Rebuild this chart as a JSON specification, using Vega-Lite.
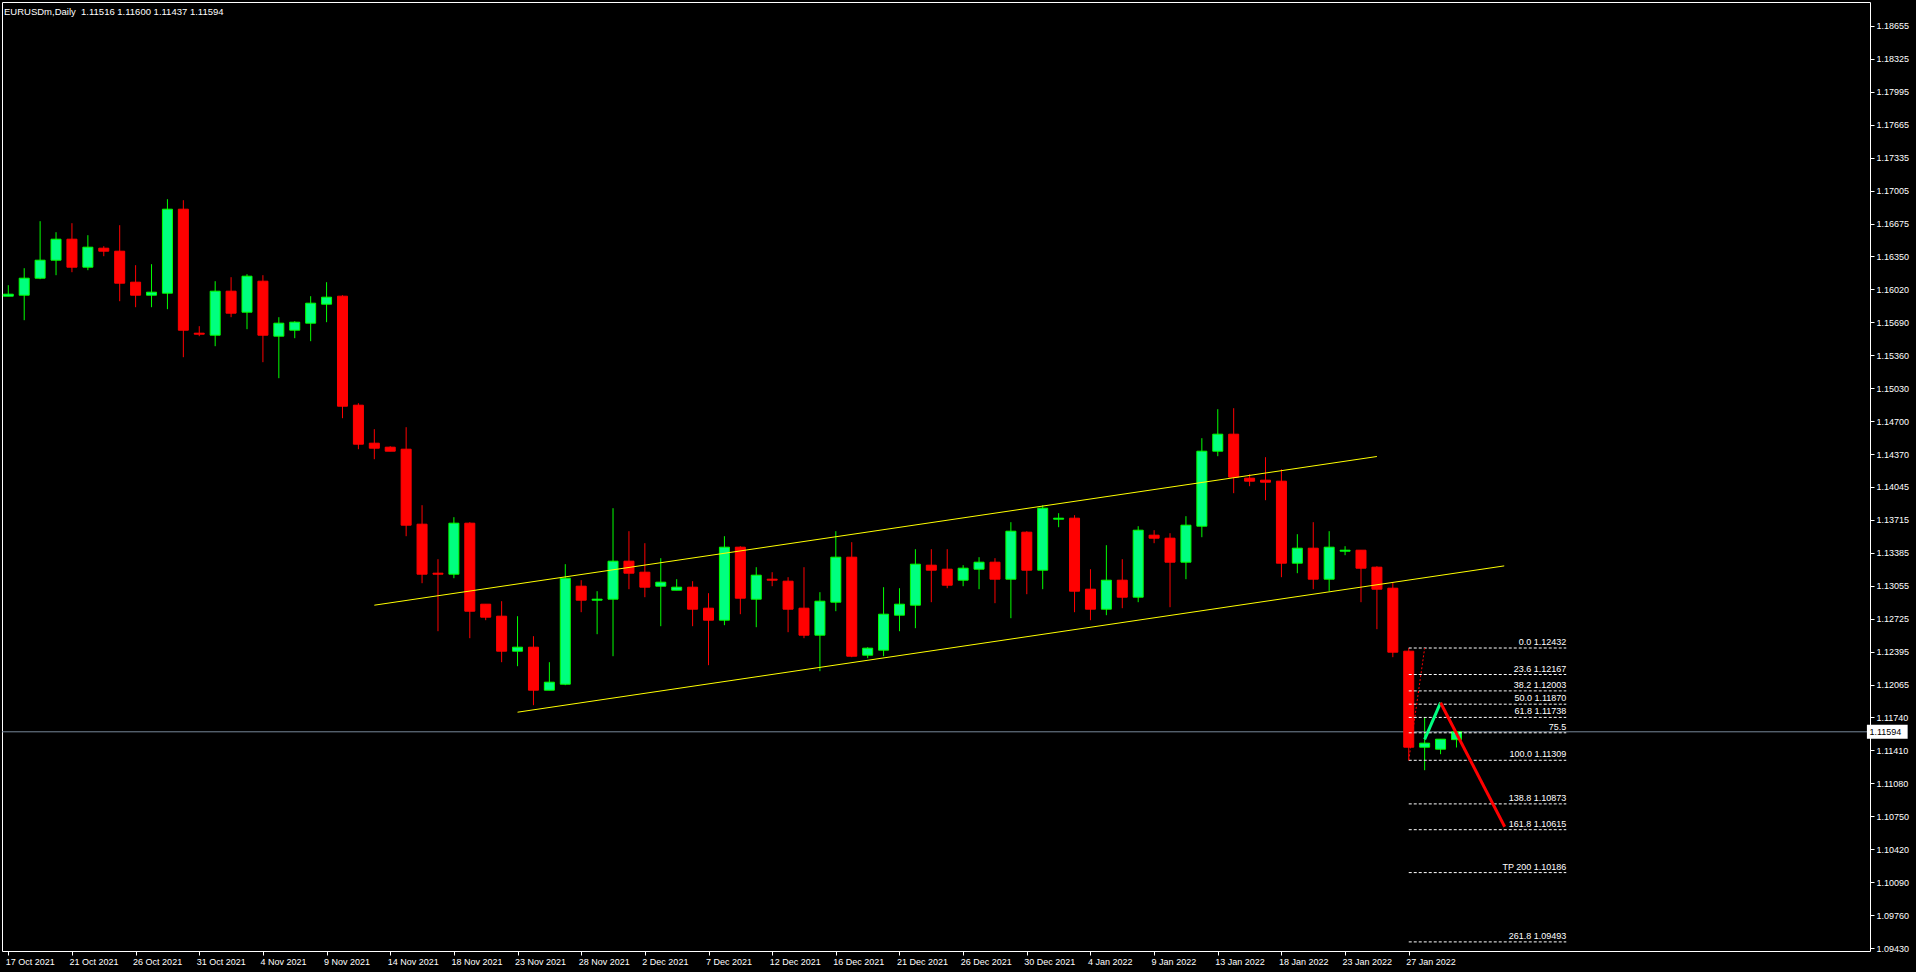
{
  "$schema": "https://vega.github.io/schema/vega-lite/v6.json",
  "width": 1868,
  "height": 949,
  "autosize": {"type": "none"},
  "padding": {"left": 2, "top": 2, "right": 46, "bottom": 21},
  "background": "#000000",
  "title": {"text": "EURUSDm,Daily\u00a0 1.11516 1.11600 1.11437 1.11594", "anchor": "start", "orient": "top", "frame": "group", "offset": -14, "dx": 2, "color": "#ffffff", "fontSize": 9.5, "fontWeight": "normal", "font": "Liberation Sans"},
  "config": {
    "view": {"stroke": "#ffffff", "strokeWidth": 1},
    "font": "Liberation Sans",
    "axis": {"grid": false, "domain": false, "labelColor": "#ffffff", "tickColor": "#ffffff", "labelFont": "Liberation Sans", "labelFontSize": 9, "tickSize": 4, "labelPadding": 2, "labelOverlap": false, "labelFlush": false}
  },
  "datasets": {
    "candles": [
      {"i":0,"o":1.1595,"h":1.1606,"l":1.1595,"c":1.1597},
      {"i":1,"o":1.1596,"h":1.1623,"l":1.1571,"c":1.1613},
      {"i":2,"o":1.1613,"h":1.1670,"l":1.1612,"c":1.1631},
      {"i":3,"o":1.1631,"h":1.1659,"l":1.1616,"c":1.1652},
      {"i":4,"o":1.1652,"h":1.1668,"l":1.1619,"c":1.1624},
      {"i":5,"o":1.1624,"h":1.1656,"l":1.1621,"c":1.1644},
      {"i":6,"o":1.1643,"h":1.1645,"l":1.1635,"c":1.1640},
      {"i":7,"o":1.1640,"h":1.1666,"l":1.1590,"c":1.1608},
      {"i":8,"o":1.1609,"h":1.1626,"l":1.1584,"c":1.1596},
      {"i":9,"o":1.1596,"h":1.1627,"l":1.1584,"c":1.1599},
      {"i":10,"o":1.1598,"h":1.1692,"l":1.1582,"c":1.1682},
      {"i":11,"o":1.1682,"h":1.1691,"l":1.1534,"c":1.1561},
      {"i":12,"o":1.1558,"h":1.1565,"l":1.1555,"c":1.1557},
      {"i":13,"o":1.1556,"h":1.1610,"l":1.1545,"c":1.1600},
      {"i":14,"o":1.1600,"h":1.1614,"l":1.1574,"c":1.1578},
      {"i":15,"o":1.1579,"h":1.1617,"l":1.1562,"c":1.1615},
      {"i":16,"o":1.1610,"h":1.1616,"l":1.1529,"c":1.1556},
      {"i":17,"o":1.1555,"h":1.1574,"l":1.1513,"c":1.1568},
      {"i":18,"o":1.1561,"h":1.1570,"l":1.1553,"c":1.1569},
      {"i":19,"o":1.1568,"h":1.1595,"l":1.1550,"c":1.1588},
      {"i":20,"o":1.1587,"h":1.1609,"l":1.1569,"c":1.1594},
      {"i":21,"o":1.1595,"h":1.1596,"l":1.1473,"c":1.1485},
      {"i":22,"o":1.1486,"h":1.1488,"l":1.1442,"c":1.1447},
      {"i":23,"o":1.1448,"h":1.1462,"l":1.1432,"c":1.1443},
      {"i":24,"o":1.1444,"h":1.1445,"l":1.1440,"c":1.1440},
      {"i":25,"o":1.1442,"h":1.1464,"l":1.1355,"c":1.1366},
      {"i":26,"o":1.1367,"h":1.1386,"l":1.1308,"c":1.1317},
      {"i":27,"o":1.1318,"h":1.1332,"l":1.1260,"c":1.1317},
      {"i":28,"o":1.1317,"h":1.1374,"l":1.1313,"c":1.1368},
      {"i":29,"o":1.1368,"h":1.1369,"l":1.1253,"c":1.1280},
      {"i":30,"o":1.1287,"h":1.1287,"l":1.1271,"c":1.1274},
      {"i":31,"o":1.1275,"h":1.1290,"l":1.1229,"c":1.1240},
      {"i":32,"o":1.1240,"h":1.1275,"l":1.1225,"c":1.1244},
      {"i":33,"o":1.1244,"h":1.1255,"l":1.1186,"c":1.1201},
      {"i":34,"o":1.1201,"h":1.1229,"l":1.1201,"c":1.1209},
      {"i":35,"o":1.1207,"h":1.1327,"l":1.1206,"c":1.1313},
      {"i":36,"o":1.1305,"h":1.1311,"l":1.1279,"c":1.1291},
      {"i":37,"o":1.1291,"h":1.1300,"l":1.1257,"c":1.1292},
      {"i":38,"o":1.1292,"h":1.1383,"l":1.1235,"c":1.1330},
      {"i":39,"o":1.1330,"h":1.1360,"l":1.1302,"c":1.1318},
      {"i":40,"o":1.1319,"h":1.1348,"l":1.1294,"c":1.1304},
      {"i":41,"o":1.1305,"h":1.1333,"l":1.1265,"c":1.1309},
      {"i":42,"o":1.1301,"h":1.1312,"l":1.1301,"c":1.1304},
      {"i":43,"o":1.1304,"h":1.1310,"l":1.1265,"c":1.1282},
      {"i":44,"o":1.1283,"h":1.1298,"l":1.1226,"c":1.1271},
      {"i":45,"o":1.1271,"h":1.1355,"l":1.1266,"c":1.1344},
      {"i":46,"o":1.1344,"h":1.1345,"l":1.1277,"c":1.1293},
      {"i":47,"o":1.1292,"h":1.1324,"l":1.1264,"c":1.1316},
      {"i":48,"o":1.1312,"h":1.1319,"l":1.1305,"c":1.1311},
      {"i":49,"o":1.1310,"h":1.1314,"l":1.1259,"c":1.1282},
      {"i":50,"o":1.1283,"h":1.1324,"l":1.1253,"c":1.1256},
      {"i":51,"o":1.1256,"h":1.1299,"l":1.1220,"c":1.1290},
      {"i":52,"o":1.1289,"h":1.1360,"l":1.1280,"c":1.1334},
      {"i":53,"o":1.1334,"h":1.1349,"l":1.1234,"c":1.1235},
      {"i":54,"o":1.1236,"h":1.1244,"l":1.1233,"c":1.1243},
      {"i":55,"o":1.1241,"h":1.1304,"l":1.1235,"c":1.1277},
      {"i":56,"o":1.1276,"h":1.1303,"l":1.1260,"c":1.1287},
      {"i":57,"o":1.1286,"h":1.1342,"l":1.1263,"c":1.1327},
      {"i":58,"o":1.1326,"h":1.1342,"l":1.1289,"c":1.1321},
      {"i":59,"o":1.1322,"h":1.1342,"l":1.1303,"c":1.1306},
      {"i":60,"o":1.1311,"h":1.1326,"l":1.1305,"c":1.1323},
      {"i":61,"o":1.1322,"h":1.1334,"l":1.1302,"c":1.1329},
      {"i":62,"o":1.1329,"h":1.1333,"l":1.1288,"c":1.1312},
      {"i":63,"o":1.1312,"h":1.1369,"l":1.1273,"c":1.1360},
      {"i":64,"o":1.1359,"h":1.1360,"l":1.1297,"c":1.1321},
      {"i":65,"o":1.1321,"h":1.1386,"l":1.1302,"c":1.1383},
      {"i":66,"o":1.1372,"h":1.1378,"l":1.1364,"c":1.1373},
      {"i":67,"o":1.1373,"h":1.1376,"l":1.1279,"c":1.1300},
      {"i":68,"o":1.1302,"h":1.1322,"l":1.1271,"c":1.1282},
      {"i":69,"o":1.1282,"h":1.1346,"l":1.1276,"c":1.1311},
      {"i":70,"o":1.1311,"h":1.1332,"l":1.1283,"c":1.1294},
      {"i":71,"o":1.1294,"h":1.1365,"l":1.1289,"c":1.1361},
      {"i":72,"o":1.1356,"h":1.1361,"l":1.1348,"c":1.1353},
      {"i":73,"o":1.1353,"h":1.1358,"l":1.1284,"c":1.1329},
      {"i":74,"o":1.1329,"h":1.1375,"l":1.1312,"c":1.1366},
      {"i":75,"o":1.1365,"h":1.1453,"l":1.1354,"c":1.1440},
      {"i":76,"o":1.1440,"h":1.1482,"l":1.1435,"c":1.1457},
      {"i":77,"o":1.1457,"h":1.1483,"l":1.1398,"c":1.1414},
      {"i":78,"o":1.1413,"h":1.1417,"l":1.1405,"c":1.1410},
      {"i":79,"o":1.1411,"h":1.1434,"l":1.1391,"c":1.1409},
      {"i":80,"o":1.1410,"h":1.1422,"l":1.1314,"c":1.1328},
      {"i":81,"o":1.1328,"h":1.1357,"l":1.1318,"c":1.1343},
      {"i":82,"o":1.1343,"h":1.1369,"l":1.1302,"c":1.1312},
      {"i":83,"o":1.1312,"h":1.1360,"l":1.1300,"c":1.1344},
      {"i":84,"o":1.1340,"h":1.1345,"l":1.1336,"c":1.1341},
      {"i":85,"o":1.1341,"h":1.1341,"l":1.1289,"c":1.1323},
      {"i":86,"o":1.1324,"h":1.1325,"l":1.1262,"c":1.1302},
      {"i":87,"o":1.1303,"h":1.1309,"l":1.1234,"c":1.1239},
      {"i":88,"o":1.1240,"h":1.12432,"l":1.11309,"c":1.1144},
      {"i":89,"o":1.1144,"h":1.1174,"l":1.1121,"c":1.1148},
      {"i":90,"o":1.1142,"h":1.1152,"l":1.1137,"c":1.1152},
      {"i":91,"o":1.11516,"h":1.11600,"l":1.11437,"c":1.11594}
    ],
    "channel": [
      {"line":"upper","i":23,"p":1.1286},
      {"line":"upper","i":86,"p":1.14347},
      {"line":"lower","i":32,"p":1.1179},
      {"line":"lower","i":94,"p":1.13253}
    ],
    "fib": [
      {"label":"0.0 1.12432","p":1.12432},
      {"label":"23.6 1.12167","p":1.12167},
      {"label":"38.2 1.12003","p":1.12003},
      {"label":"50.0 1.11870","p":1.11870},
      {"label":"61.8 1.11738","p":1.11738},
      {"label":"75.5","p":1.11584},
      {"label":"100.0 1.11309","p":1.11309},
      {"label":"138.8 1.10873","p":1.10873},
      {"label":"161.8 1.10615","p":1.10615},
      {"label":"TP 200 1.10186","p":1.10186},
      {"label":"261.8 1.09493","p":1.09493}
    ],
    "fibtrend": [
      {"i":88,"p":1.11309},
      {"i":89,"p":1.12432}
    ],
    "zigzag": [
      {"seg":"up","i":89,"p":1.11519},
      {"seg":"up","i":90,"p":1.11885},
      {"seg":"down","i":90,"p":1.11885},
      {"seg":"down","i":94.03,"p":1.10645}
    ],
    "bid": [
      {"p":1.11594}
    ]
  },
  "layer": [
    {
      "data": {"name": "candles"},
      "mark": {"type": "rule", "strokeWidth": 1, "clip": true},
      "encoding": {
        "x": {"field": "i", "type": "quantitative", "title": null,
              "scale": {"domain": [-0.081, 116.67], "nice": false, "zero": false},
              "axis": {"orient": "bottom", "values": [0,4,8,12,16,20,24,28,32,36,40,44,48,52,56,60,64,68,72,76,80,84,88], "tickCount": 60,
                       "labelExpr": "['17 Oct 2021','21 Oct 2021','26 Oct 2021','31 Oct 2021','4 Nov 2021','9 Nov 2021','14 Nov 2021','18 Nov 2021','23 Nov 2021','28 Nov 2021','2 Dec 2021','7 Dec 2021','12 Dec 2021','16 Dec 2021','21 Dec 2021','26 Dec 2021','30 Dec 2021','4 Jan 2022','9 Jan 2022','13 Jan 2022','18 Jan 2022','23 Jan 2022','27 Jan 2022'][round(datum.value/4)]",
                       "labelAlign": "left", "labelBaseline": "top", "labelColor": "#ffffff", "labelFont": "Liberation Sans", "labelFontSize": 9, "labelOffset": -3,
                       "labelPadding": 2, "labelOverlap": false, "labelFlush": false, "tickColor": "#ffffff", "tickSize": 4, "domain": false, "grid": false, "title": null}},
        "y": {"field": "l", "type": "quantitative", "title": null,
              "scale": {"domain": [1.09402, 1.18892], "nice": false, "zero": false},
              "axis": {"orient": "right", "values": [1.18655,1.18325,1.17995,1.17665,1.17335,1.17005,1.16675,1.1635,1.1602,1.1569,1.1536,1.1503,1.147,1.1437,1.14045,1.13715,1.13385,1.13055,1.12725,1.12395,1.12065,1.1174,1.1141,1.1108,1.1075,1.1042,1.1009,1.0976,1.0943], "tickCount": 60,
                       "format": ".5f", "labelColor": "#ffffff", "labelFont": "Liberation Sans", "labelFontSize": 9, "labelBaseline": "middle",
                       "labelPadding": 2, "labelOverlap": false, "labelFlush": false, "tickColor": "#ffffff", "tickSize": 4, "domain": false, "grid": false, "title": null}},
        "y2": {"field": "h"},
        "color": {"condition": {"test": "datum.c >= datum.o", "value": "#00ff00"}, "value": "#ff0000"}
      }
    },
    {
      "data": {"name": "bid"},
      "mark": {"type": "rule", "color": "#778899", "strokeWidth": 1},
      "encoding": {
        "y": {"field": "p", "type": "quantitative", "title": null, "scale": {"domain": [1.09402, 1.18892], "nice": false, "zero": false}}
      }
    },
    {
      "data": {"name": "candles"},
      "mark": {"type": "bar", "size": 10, "strokeWidth": 1, "clip": true},
      "encoding": {
        "x": {"field": "i", "type": "quantitative", "title": null, "scale": {"domain": [-0.081, 116.67], "nice": false, "zero": false}},
        "y": {"field": "o", "type": "quantitative", "title": null, "scale": {"domain": [1.09402, 1.18892], "nice": false, "zero": false}},
        "y2": {"field": "c"},
        "fill": {"condition": {"test": "datum.c >= datum.o", "value": "#00ff7f"}, "value": "#ff0000"},
        "stroke": {"condition": {"test": "datum.c >= datum.o", "value": "#00ff00"}, "value": "#ff0000"}
      }
    },
    {
      "data": {"name": "channel"},
      "mark": {"type": "line", "color": "#ffff00", "strokeWidth": 1},
      "encoding": {
        "x": {"field": "i", "type": "quantitative", "title": null, "scale": {"domain": [-0.081, 116.67], "nice": false, "zero": false}},
        "y": {"field": "p", "type": "quantitative", "title": null, "scale": {"domain": [1.09402, 1.18892], "nice": false, "zero": false}},
        "detail": {"field": "line", "type": "nominal"}
      }
    },
    {
      "data": {"name": "fib"},
      "mark": {"type": "rule", "color": "#ffffff", "strokeWidth": 1, "strokeDash": [3, 2]},
      "encoding": {
        "x": {"datum": 88, "type": "quantitative", "title": null, "scale": {"domain": [-0.081, 116.67], "nice": false, "zero": false}},
        "x2": {"datum": 97.9},
        "y": {"field": "p", "type": "quantitative", "title": null, "scale": {"domain": [1.09402, 1.18892], "nice": false, "zero": false}}
      }
    },
    {
      "data": {"name": "fib"},
      "mark": {"type": "text", "color": "#ffffff", "font": "Liberation Sans", "fontSize": 9, "align": "right", "baseline": "bottom", "dy": -1},
      "encoding": {
        "x": {"datum": 97.9, "type": "quantitative", "title": null, "scale": {"domain": [-0.081, 116.67], "nice": false, "zero": false}},
        "y": {"field": "p", "type": "quantitative", "title": null, "scale": {"domain": [1.09402, 1.18892], "nice": false, "zero": false}},
        "text": {"field": "label", "type": "nominal"}
      }
    },
    {
      "data": {"name": "fibtrend"},
      "mark": {"type": "line", "color": "#ff0000", "strokeWidth": 1, "strokeDash": [2, 2]},
      "encoding": {
        "x": {"field": "i", "type": "quantitative", "title": null, "scale": {"domain": [-0.081, 116.67], "nice": false, "zero": false}},
        "y": {"field": "p", "type": "quantitative", "title": null, "scale": {"domain": [1.09402, 1.18892], "nice": false, "zero": false}}
      }
    },
    {
      "data": {"name": "zigzag"},
      "mark": {"type": "line", "strokeWidth": 3},
      "encoding": {
        "x": {"field": "i", "type": "quantitative", "title": null, "scale": {"domain": [-0.081, 116.67], "nice": false, "zero": false}},
        "y": {"field": "p", "type": "quantitative", "title": null, "scale": {"domain": [1.09402, 1.18892], "nice": false, "zero": false}},
        "color": {"field": "seg", "type": "nominal", "scale": {"domain": ["up", "down"], "range": ["#00ff7f", "#ff0000"]}, "legend": null}
      }
    },
    {
      "data": {"name": "bid"},
      "mark": {"type": "rect", "fill": "#ffffff", "clip": false},
      "encoding": {
        "x": {"datum": 116.79, "type": "quantitative", "title": null, "scale": {"domain": [-0.081, 116.67], "nice": false, "zero": false}},
        "x2": {"datum": 119.35},
        "y": {"datum": 1.11664, "type": "quantitative", "title": null, "scale": {"domain": [1.09402, 1.18892], "nice": false, "zero": false}},
        "y2": {"datum": 1.11524}
      }
    },
    {
      "data": {"name": "bid"},
      "mark": {"type": "text", "color": "#000000", "font": "Liberation Sans", "fontSize": 9, "align": "left", "baseline": "middle", "clip": false},
      "encoding": {
        "x": {"datum": 116.95, "type": "quantitative", "title": null, "scale": {"domain": [-0.081, 116.67], "nice": false, "zero": false}},
        "y": {"field": "p", "type": "quantitative", "title": null, "scale": {"domain": [1.09402, 1.18892], "nice": false, "zero": false}},
        "text": {"field": "p", "type": "quantitative", "format": ".5f"}
      }
    }
  ]
}
